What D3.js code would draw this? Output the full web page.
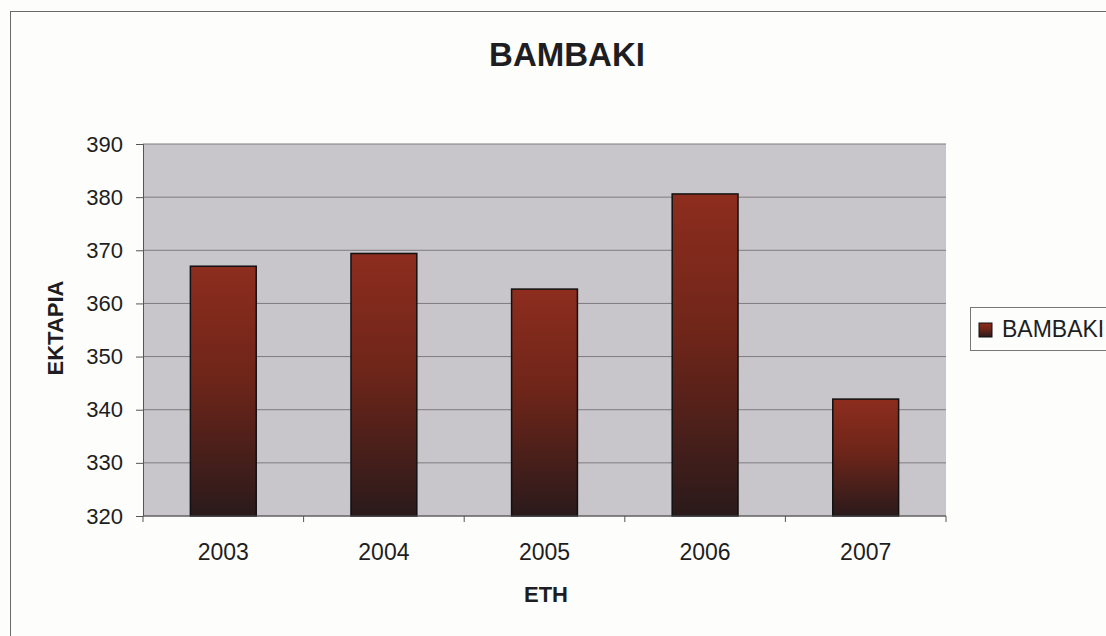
<!DOCTYPE html>
<html><head><meta charset="utf-8">
<script src="https://cdn.jsdelivr.net/npm/d3@7"></script>
<style>body{margin:0;background:#fff}svg{display:block}text{font-family:"Liberation Sans",Arial,sans-serif;fill:#1e1e22}</style>
</head><body>
<script>
const categories = ["2003","2004","2005","2006","2007"];
const values = [367, 369.4, 362.7, 380.6, 342];
const yTicks = [320,330,340,350,360,370,380,390];
const seriesName = "BAMBAKI";
const titleText = "BAMBAKI";
const xTitle = "ETH";
const yTitle = "EKTAPIA";

const W = 1106, H = 636;
const svg = d3.select("body").append("svg").attr("width",W).attr("height",H);
const defs = svg.append("defs");
const grad = defs.append("linearGradient").attr("id","barGrad").attr("x1",0).attr("y1",0).attr("x2",0).attr("y2",1);
grad.append("stop").attr("offset","0%").attr("stop-color","#8d2d1e");
grad.append("stop").attr("offset","45%").attr("stop-color","#6e2519");
grad.append("stop").attr("offset","100%").attr("stop-color","#2a1a1b");

svg.append("rect").attr("width",W).attr("height",H).attr("fill","#fdfdfb");
svg.append("rect").attr("x",10.5).attr("y",11.5).attr("width",1110).attr("height",640)
  .attr("fill","none").attr("stroke","#6a6a6a").attr("stroke-width",1);

const plot = {l:143, t:144, r:946, b:516};
const x = d3.scaleBand().domain(categories).range([plot.l, plot.r]).paddingInner(0.59).paddingOuter(0.295);
const y = d3.scaleLinear().domain([320,390]).range([plot.b, plot.t]);

svg.append("rect").attr("x",plot.l).attr("y",plot.t).attr("width",plot.r-plot.l).attr("height",plot.b-plot.t)
  .attr("fill","#c9c6cb");

svg.append("g").selectAll("line").data(yTicks).join("line")
  .attr("x1",plot.l).attr("x2",plot.r).attr("y1",d=>y(d)).attr("y2",d=>y(d))
  .attr("stroke","#7d7b80").attr("stroke-width",1);

svg.append("g").selectAll("rect").data(categories).join("rect")
  .attr("x",d=>x(d)).attr("width",x.bandwidth())
  .attr("y",(d,i)=>y(values[i])).attr("height",(d,i)=>y(320)-y(values[i]))
  .attr("fill","url(#barGrad)").attr("stroke","#111").attr("stroke-width",1.5);

const yAxis = d3.axisLeft(y).tickValues(yTicks).tickSize(7).tickPadding(13);
const gy = svg.append("g").attr("transform",`translate(${plot.l},0)`).call(yAxis);
gy.select(".domain").attr("stroke","#555");
gy.selectAll(".tick line").attr("stroke","#555");
gy.selectAll("text").style("font-size","22px").attr("fill","#1e1e22");

const xb = d3.scaleLinear().domain([0,5]).range([plot.l, plot.r]);
const gx = svg.append("g").attr("transform",`translate(0,${plot.b})`);
gx.append("line").attr("x1",plot.l).attr("x2",plot.r).attr("stroke","#555");
gx.selectAll("line.tk").data(d3.range(6)).join("line").attr("class","tk")
  .attr("x1",d=>xb(d)).attr("x2",d=>xb(d)).attr("y1",0).attr("y2",6).attr("stroke","#555");
gx.selectAll("text").data(categories).join("text")
  .attr("x",d=>x(d)+x.bandwidth()/2).attr("y",44).attr("text-anchor","middle")
  .style("font-size","23px").text(d=>d);

svg.append("text").attr("x",567).attr("y",66).attr("text-anchor","middle")
  .style("font-size","33px").style("font-weight","bold").text(titleText);
svg.append("text").attr("x",546).attr("y",602).attr("text-anchor","middle")
  .style("font-size","22px").style("font-weight","bold").text(xTitle);
svg.append("text").attr("transform","translate(63,328) rotate(-90)").attr("text-anchor","middle")
  .style("font-size","22px").style("font-weight","bold").text(yTitle);

const lg = svg.append("g");
lg.append("rect").attr("x",970.5).attr("y",307.5).attr("width",150).attr("height",43)
  .attr("fill","#fdfdfb").attr("stroke","#777").attr("stroke-width",1);
lg.append("rect").attr("x",979).attr("y",323).attr("width",13).attr("height",14)
  .attr("fill","url(#barGrad)").attr("stroke","#111").attr("stroke-width",1);
lg.append("text").attr("x",1002).attr("y",337).style("font-size","23px").text(seriesName);
</script>
</body></html>
